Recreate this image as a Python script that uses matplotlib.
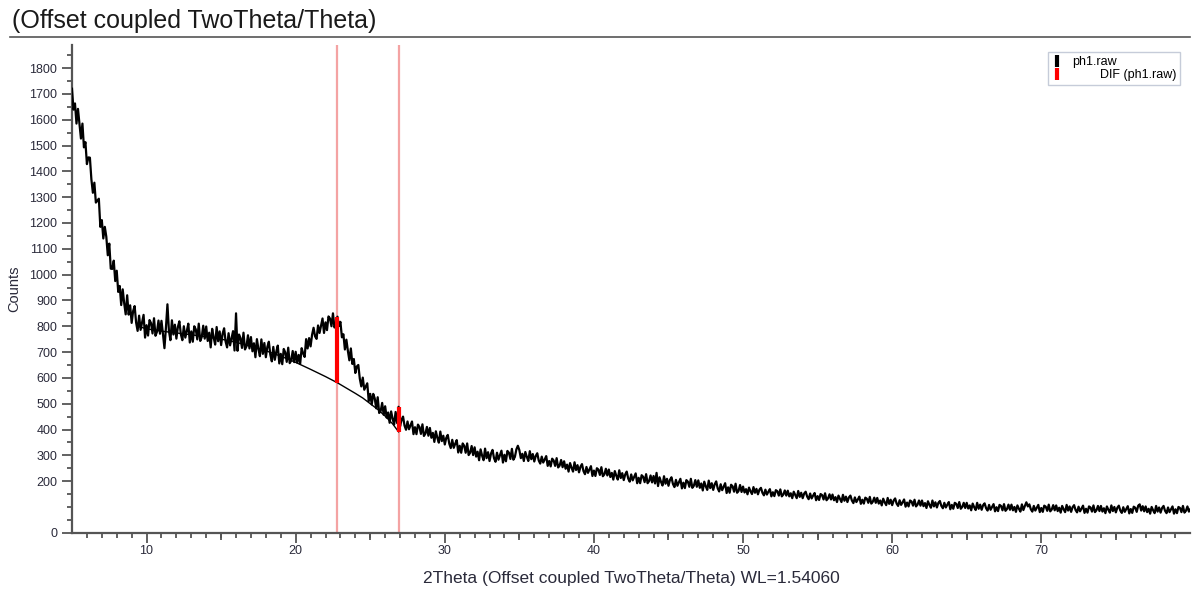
import numpy as np
import matplotlib
matplotlib.use("Agg")
import matplotlib.pyplot as plt
from matplotlib.lines import Line2D

plt.rcParams["font.family"] = ["Liberation Sans", "DejaVu Sans"]

# ph1.raw, every 0.1 deg from 5.0 to 80.0 (one row = 1 deg)
counts = [
    1720, 1639, 1663, 1585, 1642, 1584, 1527, 1585, 1493, 1513,
    1428, 1454, 1453, 1369, 1317, 1356, 1279, 1286, 1294, 1185,
    1211, 1140, 1185, 1147, 1075, 1120, 1023, 1022, 1054, 975,
    1015, 933, 956, 882, 943, 889, 846, 920, 845, 881,
    813, 859, 878, 814, 782, 841, 786, 814, 844, 756,
    804, 764, 824, 812, 772, 831, 763, 779, 822, 771,
    821, 770, 715, 795, 885, 782, 746, 823, 768, 806,
    752, 797, 819, 769, 746, 800, 756, 782, 810, 737,
    780, 740, 800, 788, 749, 810, 743, 758, 802, 752,
    799, 743, 775, 718, 790, 756, 729, 797, 742, 780,
    727, 771, 792, 741, 718, 773, 726, 753, 781, 706,
    850, 705, 768, 754, 716, 775, 710, 722, 765, 714,
    758, 703, 734, 680, 750, 712, 684, 749, 693, 735,
    680, 720, 740, 690, 664, 720, 670, 701, 725, 656,
    693, 653, 712, 699, 662, 717, 657, 667, 704, 661,
    701, 659, 689, 654, 715, 695, 681, 750, 714, 754,
    722, 767, 794, 761, 751, 803, 774, 802, 830, 774,
    815, 785, 838, 830, 800, 850, 795, 809, 837, 801,
    817, 757, 769, 710, 748, 705, 668, 714, 654, 673,
    619, 644, 650, 597, 567, 601, 554, 567, 579, 510,
    538, 497, 538, 521, 482, 525, 464, 472, 503, 457,
    490, 446, 466, 426, 470, 442, 419, 468, 425, 488,
    412, 438, 450, 415, 399, 431, 401, 416, 431, 382,
    409, 382, 419, 410, 383, 420, 375, 384, 410, 376,
    406, 368, 387, 352, 393, 368, 349, 392, 355, 376,
    342, 368, 379, 345, 328, 360, 329, 345, 359, 311,
    337, 310, 346, 337, 310, 346, 301, 310, 336, 301,
    331, 295, 314, 281, 323, 299, 281, 326, 289, 312,
    278, 307, 321, 289, 275, 310, 283, 301, 318, 272,
    302, 277, 317, 310, 286, 325, 283, 294, 323, 337,
    320, 289, 306, 278, 313, 294, 278, 316, 285, 305,
    276, 298, 308, 280, 268, 295, 272, 284, 297, 259,
    278, 257, 287, 280, 259, 289, 253, 260, 282, 254,
    277, 248, 264, 237, 270, 252, 237, 273, 243, 262,
    234, 256, 266, 239, 227, 255, 232, 245, 258, 220,
    241, 220, 250, 245, 224, 254, 219, 226, 248, 222,
    245, 216, 232, 206, 239, 221, 206, 242, 212, 231,
    204, 226, 237, 210, 198, 226, 203, 216, 230, 192,
    213, 192, 223, 217, 196, 227, 192, 200, 222, 195,
    220, 191, 232, 181, 215, 197, 183, 219, 190, 209,
    182, 205, 215, 189, 177, 205, 182, 196, 209, 172,
    194, 173, 204, 198, 178, 209, 174, 182, 204, 178,
    203, 174, 191, 164, 198, 180, 166, 202, 173, 192,
    166, 188, 199, 172, 160, 188, 165, 178, 192, 154,
    176, 155, 186, 180, 159, 190, 155, 162, 185, 158,
    179, 156, 169, 149, 175, 161, 150, 177, 155, 170,
    149, 167, 174, 155, 145, 167, 148, 159, 169, 141,
    157, 142, 165, 161, 144, 168, 141, 148, 164, 144,
    163, 141, 153, 134, 159, 146, 134, 162, 139, 155,
    134, 152, 159, 140, 130, 152, 133, 144, 154, 126,
    142, 127, 150, 146, 129, 153, 126, 133, 149, 129,
    148, 126, 138, 119, 144, 131, 119, 147, 124, 140,
    119, 137, 144, 125, 115, 137, 119, 129, 140, 112,
    128, 113, 136, 132, 116, 139, 113, 120, 136, 116,
    135, 113, 125, 106, 132, 118, 107, 135, 112, 128,
    107, 125, 133, 113, 104, 126, 108, 118, 129, 101,
    117, 102, 125, 121, 105, 128, 102, 109, 125, 105,
    125, 103, 115, 96, 122, 108, 97, 125, 102, 118,
    98, 116, 123, 104, 95, 116, 98, 109, 119, 91,
    108, 93, 116, 112, 96, 119, 93, 100, 116, 96,
    116, 94, 106, 87, 113, 99, 88, 116, 93, 109,
    89, 107, 114, 95, 86, 108, 89, 100, 111, 83,
    99, 84, 108, 104, 87, 111, 85, 92, 109, 89,
    109, 87, 100, 81, 106, 93, 82, 110, 88, 104,
    118, 102, 110, 91, 82, 104, 86, 97, 108, 80,
    96, 81, 105, 101, 85, 109, 83, 90, 107, 87,
    106, 84, 97, 78, 104, 91, 80, 108, 86, 102,
    81, 99, 107, 88, 79, 101, 83, 94, 105, 77,
    93, 78, 102, 98, 82, 106, 80, 87, 104, 84,
    104, 82, 95, 76, 102, 89, 78, 106, 84, 100,
    79, 97, 105, 86, 77, 99, 81, 92, 103, 75,
    92, 77, 101, 97, 81, 105, 110, 86, 103, 83,
    102, 80, 93, 74, 100, 87, 76, 104, 82, 98,
    78, 96, 104, 85, 76, 98, 80, 91, 102, 74,
    91, 76, 100, 96, 80, 104, 78, 85, 102, 82,
    92,
]
two_theta = np.round(np.linspace(5.0, 80.0, len(counts)), 1)

# fitted background under the amorphous hump
bg_x = [9.4, 10, 11, 12, 13, 14, 15, 16, 17, 18, 19, 20, 21, 22, 22.8,
        23.5, 24, 24.5, 25, 25.5, 26, 26.5, 26.9]
bg_y = [800, 790, 781, 774, 767, 759, 750, 738, 722, 705, 684, 660, 633,
        605, 581, 557, 540, 522, 500, 478, 452, 422, 391]

# DIF peaks
peak_pos = [22.8, 26.9]
peak_top = [837, 488]
peak_base = [581, 391]

y_ticks = [0, 200, 300, 400, 500, 600, 700, 800, 900, 1000, 1100, 1200,
           1300, 1400, 1500, 1600, 1700, 1800]
x_ticks = [10, 20, 30, 40, 50, 60, 70]
x_half_ticks = [15, 25, 35, 45, 55, 65, 75]

fig = plt.figure(figsize=(12, 5.9), dpi=100)
ax = fig.add_axes([0.06, 0.097, 0.932, 0.827])

for p in peak_pos:
    ax.axvline(p, color="#f4a3a3", lw=1.6, zorder=1)
ax.plot(bg_x, bg_y, color="black", lw=1.0, zorder=2)
ax.plot(two_theta, counts, color="black", lw=1.6, zorder=3)
ax.vlines(peak_pos, peak_base, peak_top, color="red", lw=3, zorder=4)

ax.set_xlim(5, 80)
ax.set_ylim(0, 1890)
ax.set_xticks(x_ticks)
ax.set_xticks(np.arange(6, 80), minor=True)
ax.set_yticks(y_ticks)
ax.set_yticks(np.arange(50, 1890, 50), minor=True)

for s in ["top", "right"]:
    ax.spines[s].set_visible(False)
for s in ["left", "bottom"]:
    ax.spines[s].set_color("#555555")
    ax.spines[s].set_linewidth(1.6)

ax.tick_params(which="major", length=7, width=1.3, color="#555555",
               labelsize=9, labelcolor="#2a2a3a")
ax.tick_params(which="minor", length=3.5, width=1.3, color="#555555")
ax.tick_params(axis="x", pad=1.5)

sec = ax.secondary_xaxis("bottom")
sec.set_xticks(x_half_ticks)
sec.tick_params(length=5, width=1.3, color="#555555", labelbottom=False)
sec.spines["bottom"].set_visible(False)

ax.set_ylabel("Counts", fontsize=10.5, color="#2a2a3a", labelpad=6)
ax.set_xlabel("2Theta (Offset coupled TwoTheta/Theta) WL=1.54060",
              fontsize=12.5, color="#2a2a3a")
ax.xaxis.set_label_coords(0.5, -0.078)

handles = [
    Line2D([], [], color="black", marker="|", ls="none", ms=8, mew=3),
    Line2D([], [], color="red", marker="|", ls="none", ms=8, mew=3),
]
leg = ax.legend(handles, ["ph1.raw", "        DIF (ph1.raw)"], loc="upper right",
                bbox_to_anchor=(0.991, 0.985), borderaxespad=0, fontsize=9,
                frameon=True, fancybox=False, handlelength=0.8,
                handletextpad=0.8, borderpad=0.3, labelspacing=0.1)
leg.get_frame().set_edgecolor("#b8c0d0")
leg.get_frame().set_linewidth(1.0)

fig.text(0.01, 0.965, "(Offset coupled TwoTheta/Theta)", fontsize=18,
         color="#1a1a1a", va="center", ha="left")
fig.add_artist(Line2D([0.008, 0.992], [0.937, 0.937], color="#555555", lw=1.2))

fig.savefig("out.png", dpi=100)
